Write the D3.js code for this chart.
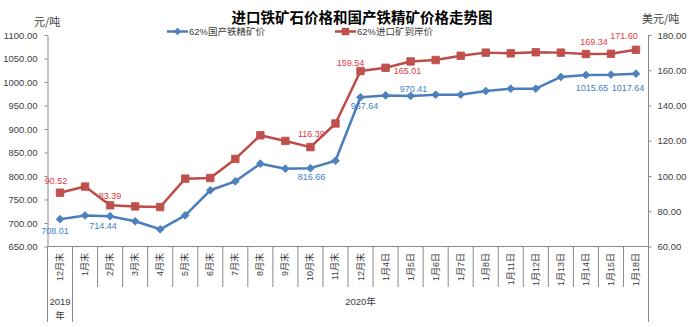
<!DOCTYPE html>
<html>
<head>
<meta charset="utf-8">
<script src="https://cdn.jsdelivr.net/npm/d3@7"></script>
<style>
  html, body { margin: 0; padding: 0; background: #fff; }
  svg { display: block; }
  text { font-family: "Liberation Sans", "Noto Sans CJK SC", sans-serif; }
</style>
</head>
<body>
<svg id="chart" width="697" height="327"></svg>
<script>
// Category labels along the x axis
const categories = ["12月末", "1月末", "2月末", "3月末", "4月末", "5月末", "6月末", "7月末", "8月末", "9月末", "10月末", "11月末",
                    "12月末", "1月4日", "1月5日", "1月6日", "1月7日", "1月8日", "1月11日", "1月12日", "1月13日", "1月14日", "1月15日", "1月18日"];
// Year groups: [label, first index, last index]
const yearGroups = [["2019年", 0, 0], ["2020年", 1, 23]];

// 62%国产铁精矿价 (元/吨, left axis)
const domesticPrice = [708.01, 716.0, 714.44, 703.6, 686.6, 716.4, 769.6, 788.7, 826.2, 815.5, 816.66, 832.5,
                       967.64, 971.5, 970.41, 973.0, 973.0, 980.8, 985.7, 985.7, 1010.8, 1014.9, 1015.65, 1017.64];
// 62%进口矿到岸价 (美元/吨, right axis)
const importPrice = [90.52, 94.0, 83.39, 82.75, 82.4, 98.5, 98.85, 109.7, 123.1, 119.9, 116.39, 129.8,
                     159.54, 161.4, 165.01, 165.8, 168.2, 170.0, 169.6, 170.2, 170.0, 169.2, 169.34, 171.60];

// Axis ticks
const leftTicks = [650, 700, 750, 800, 850, 900, 950, 1000, 1050, 1100];
const rightTicks = [60, 80, 100, 120, 140, 160, 180];

// Points carrying value labels
const domesticLabelIdx = [0, 2, 10, 12, 14, 22, 23];
const importLabelIdx = [0, 2, 10, 12, 14, 22, 23];

// Label nudges (dx, dy) relative to the point, keyed by index
const domesticLabelOffset = {0: [-5, 12], 2: [-7, 10], 10: [1, 9], 12: [4, 9], 14: [3, -7], 22: [-19, 13], 23: [-8, 14]};
const importLabelOffset = {0: [-4, -12], 2: [0, -9], 10: [1, -13], 12: [-10, -8], 14: [-3, 10], 22: [-17, -12], 23: [-12, -14]};

const svg = d3.select("#chart");
const plot = {left: 47.5, right: 648.5, top: 35, bottom: 246.5};

const colors = {
  blueLine: "#4A7EBB", blueMark: "#4F81BD", blueText: "#3B82C6",
  redLine: "#BE4B48", redMark: "#C0504D", redText: "#E2393F",
  axis: "#898989", text: "#404040"
};

const x = d3.scaleBand().domain(d3.range(categories.length)).range([plot.left, plot.right]).padding(0);
const cx = i => x(i) + x.bandwidth() / 2;
const yL = d3.scaleLinear().domain([650, 1100]).range([plot.bottom, plot.top]);
const yR = d3.scaleLinear().domain([60, 180]).range([plot.bottom, plot.top]);

// Title and units
svg.append("text").attr("x", 362).attr("y", 23).attr("text-anchor", "middle")
  .attr("font-size", 14.5).attr("font-weight", "bold").attr("fill", "#000")
  .style("font-family", "'Noto Sans CJK SC', sans-serif")
  .text("进口铁矿石价格和国产铁精矿价格走势图");
svg.append("text").attr("x", 34).attr("y", 26).attr("font-size", 11).attr("fill", colors.text)
  .style("font-family", "'Noto Sans CJK SC', sans-serif").text("元/吨");
svg.append("text").attr("x", 642).attr("y", 22.5).attr("font-size", 11).attr("fill", colors.text)
  .style("font-family", "'Noto Sans CJK SC', sans-serif").text("美元/吨");

// Left axis
const gL = svg.append("g").attr("transform", `translate(${plot.left},0)`)
  .call(d3.axisLeft(yL).tickValues(leftTicks).tickFormat(d3.format(".2f")).tickSize(3).tickSizeOuter(0).tickPadding(7));
// Right axis
const gR = svg.append("g").attr("transform", `translate(${plot.right},0)`)
  .call(d3.axisRight(yR).tickValues(rightTicks).tickFormat(d3.format(".2f")).tickSize(3).tickSizeOuter(0).tickPadding(6));
[gL, gR].forEach(g => {
  g.select(".domain").attr("stroke", colors.axis);
  g.selectAll(".tick line").attr("stroke", colors.axis);
  g.selectAll(".tick text").attr("fill", colors.text).attr("font-size", 9.5)
    .style("font-family", "'Liberation Sans', sans-serif");
});
// The right axis line is drawn below as the outer group boundary
gR.select(".domain").remove();

// Bottom axis with category dividers and year groups
const gx = svg.append("g");
gx.append("line").attr("x1", plot.left).attr("x2", plot.right).attr("y1", plot.bottom).attr("y2", plot.bottom)
  .attr("stroke", colors.axis);
const groupEdges = new Set();
yearGroups.forEach(([, a, b]) => { groupEdges.add(a); groupEdges.add(b + 1); });
d3.range(categories.length + 1).forEach(i => {
  const xx = i < categories.length ? x(i) : x(categories.length - 1) + x.bandwidth();
  const long = groupEdges.has(i);
  gx.append("line").attr("x1", xx).attr("x2", xx)
    .attr("y1", long && i === categories.length ? plot.top : plot.bottom)
    .attr("y2", long ? 322 : 287)
    .attr("stroke", colors.axis);
});
gx.selectAll("text.cat").data(categories).join("text").attr("class", "cat")
  .attr("transform", (d, i) => `translate(${cx(i)},253) rotate(-90)`)
  .attr("text-anchor", "end").attr("dominant-baseline", "central")
  .attr("font-size", 9).attr("fill", colors.text).text(d => d);
yearGroups.forEach(([label, a, b]) => {
  const mid = (x(a) + x(b) + x.bandwidth()) / 2;
  if (b === a) {
    // narrow single column: label wraps
    gx.append("text").attr("x", mid).attr("y", 305).attr("text-anchor", "middle")
      .attr("font-size", 9.5).attr("fill", colors.text).text(label.slice(0, 4));
    gx.append("text").attr("x", mid).attr("y", 319).attr("text-anchor", "middle")
      .attr("font-size", 9.5).attr("fill", colors.text).text(label.slice(4));
  } else {
    gx.append("text").attr("x", mid).attr("y", 305).attr("text-anchor", "middle")
      .attr("font-size", 9.5).attr("fill", colors.text).text(label);
  }
});

// Series lines
const lineL = d3.line().x((d, i) => cx(i)).y(d => yL(d));
const lineR = d3.line().x((d, i) => cx(i)).y(d => yR(d));
svg.append("path").datum(importPrice).attr("d", lineR).attr("fill", "none")
  .attr("stroke", colors.redLine).attr("stroke-width", 2.5).attr("stroke-linejoin", "round");
svg.append("path").datum(domesticPrice).attr("d", lineL).attr("fill", "none")
  .attr("stroke", colors.blueLine).attr("stroke-width", 2.5).attr("stroke-linejoin", "round");

// Markers
const square = d3.symbol().type(d3.symbolSquare).size(56);
const diamond = d3.symbol().type(d3.symbolSquare).size(30);
svg.append("g").selectAll("path").data(importPrice).join("path")
  .attr("d", square).attr("transform", (d, i) => `translate(${cx(i)},${yR(d)})`)
  .attr("fill", colors.redMark).attr("stroke", colors.redLine).attr("stroke-width", 0.8);
svg.append("g").selectAll("path").data(domesticPrice).join("path")
  .attr("d", diamond).attr("transform", (d, i) => `translate(${cx(i)},${yL(d)}) rotate(45)`)
  .attr("fill", colors.blueMark).attr("stroke", colors.blueLine).attr("stroke-width", 0.8);

// Value labels
svg.append("g").selectAll("text").data(domesticLabelIdx).join("text")
  .attr("x", i => cx(i) + domesticLabelOffset[i][0])
  .attr("y", i => yL(domesticPrice[i]) + domesticLabelOffset[i][1])
  .attr("text-anchor", "middle").attr("dominant-baseline", "central")
  .attr("font-size", 9).attr("fill", colors.blueText)
  .text(i => d3.format(".2f")(domesticPrice[i]));
svg.append("g").selectAll("text").data(importLabelIdx).join("text")
  .attr("x", i => cx(i) + importLabelOffset[i][0])
  .attr("y", i => yR(importPrice[i]) + importLabelOffset[i][1])
  .attr("text-anchor", "middle").attr("dominant-baseline", "central")
  .attr("font-size", 9).attr("fill", colors.redText)
  .text(i => d3.format(".2f")(importPrice[i]));

// Legend
const legend = [
  {label: "62%国产铁精矿价", x: 167, line: colors.blueLine, mark: colors.blueMark, sym: diamond, rot: 45},
  {label: "62%进口矿到岸价", x: 335, line: colors.redLine, mark: colors.redMark, sym: square, rot: 0}
];
const lg = svg.append("g").selectAll("g").data(legend).join("g")
  .attr("transform", d => `translate(${d.x},31.5)`);
lg.append("line").attr("x1", 0).attr("x2", 21).attr("stroke", d => d.line).attr("stroke-width", 2.5);
lg.append("path").attr("d", d => d.sym()).attr("transform", d => `translate(10.5,0) rotate(${d.rot})`)
  .attr("fill", d => d.mark);
lg.append("text").attr("x", 22).attr("y", 0).attr("dominant-baseline", "central")
  .attr("font-size", 9.5).attr("fill", colors.text).text(d => d.label);
</script>
</body>
</html>
